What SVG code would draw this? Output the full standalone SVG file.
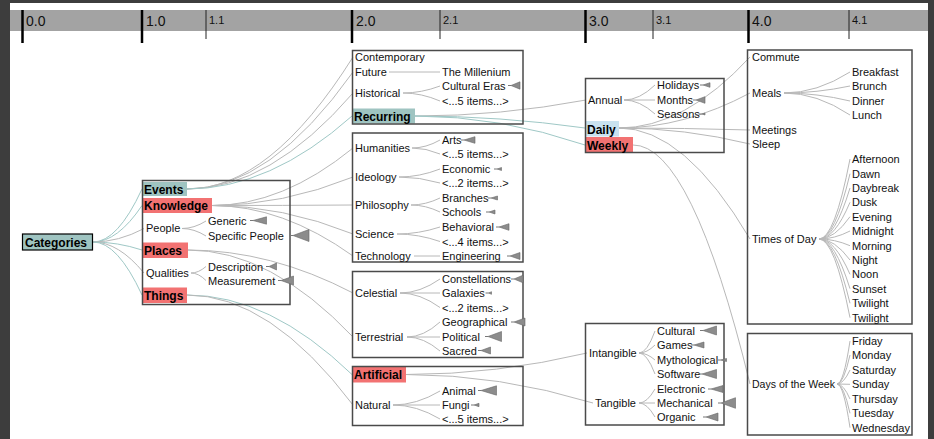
<svg xmlns="http://www.w3.org/2000/svg" width="934" height="439" viewBox="0 0 934 439">
<style>
.box{fill:none;stroke:#4a4a4a;stroke-width:1.5}
.t{font-family:"Liberation Sans",Arial,sans-serif;font-size:11px;fill:#111}
.b{font-family:"Liberation Sans",Arial,sans-serif;font-size:12px;font-weight:bold;fill:#000}
.tk{font-family:"Liberation Sans",Arial,sans-serif;font-size:14px;fill:#111}
.tm{font-family:"Liberation Sans",Arial,sans-serif;font-size:11px;fill:#111}
.teal{fill:#9fc4c1}
.red{fill:#f27272}
.blue{fill:#c9e2ef}
.e{fill:none;stroke:#b8b8b8;stroke-width:1}
.et{fill:none;stroke:#9fc8c6;stroke-width:1}
.tri{fill:#8c8c8c;stroke:#666;stroke-width:0.6}
.lead{stroke:#777;stroke-width:1}
.maj{stroke:#000;stroke-width:2.5}
.min{stroke:#222;stroke-width:1}
</style>
<rect width="934" height="439" fill="#3d3d3d"/>
<rect x="10" y="3" width="918" height="436" fill="#fff"/>
<g id="axis">
<rect x="10" y="10" width="918" height="21" fill="#a3a3a3"/>
<line class="maj" x1="22.5" y1="10" x2="22.5" y2="43"/>
<line class="maj" x1="142" y1="10" x2="142" y2="43"/>
<line class="min" x1="206" y1="10" x2="206" y2="39"/>
<line class="maj" x1="352" y1="10" x2="352" y2="43"/>
<line class="min" x1="440" y1="10" x2="440" y2="39"/>
<line class="maj" x1="585.5" y1="10" x2="585.5" y2="43"/>
<line class="min" x1="653" y1="10" x2="653" y2="39"/>
<line class="maj" x1="748.5" y1="10" x2="748.5" y2="43"/>
<line class="min" x1="849" y1="10" x2="849" y2="39"/>
<text class="tk" x="26" y="26">0.0</text>
<text class="tk" x="146" y="26">1.0</text>
<text class="tm" x="209" y="24">1.1</text>
<text class="tk" x="356" y="26">2.0</text>
<text class="tm" x="443" y="24">2.1</text>
<text class="tk" x="589" y="26">3.0</text>
<text class="tm" x="656" y="24">3.1</text>
<text class="tk" x="752" y="26">4.0</text>
<text class="tm" x="852" y="24">4.1</text>
</g>
<g id="connectors">
<path class="et" d="M93,242 Q117.5,242 142,189"/>
<path class="et" d="M93,242 Q117.5,242 142,205.5"/>
<path class="e" d="M93,242 Q118.5,242 144,228.5"/>
<path class="et" d="M93,242 Q117.5,242 142,250"/>
<path class="e" d="M93,242 Q118.5,242 144,273"/>
<path class="et" d="M93,242 Q117.5,242 142,295"/>
<path class="e" d="M187,189 Q270,189 353,57"/>
<path class="e" d="M187,189 Q270,189 353,72"/>
<path class="e" d="M187,189 Q270,189 353,93"/>
<path class="et" d="M187,189 Q270,189 352,116"/>
<path class="e" d="M212,205.5 Q282.5,205.5 353,148"/>
<path class="e" d="M212,205.5 Q282.5,205.5 353,177"/>
<path class="e" d="M212,205.5 Q282.5,205.5 353,205"/>
<path class="e" d="M212,205.5 Q282.5,205.5 353,234"/>
<path class="e" d="M212,205.5 Q282.5,205.5 353,256"/>
<path class="e" d="M182,228.5 Q194,228.5 206,221"/>
<path class="e" d="M182,228.5 Q194,228.5 206,236"/>
<path class="e" d="M191,273 Q198.5,273 206,266.5"/>
<path class="e" d="M191,273 Q198.5,273 206,280.5"/>
<path class="e" d="M188,250 Q270.5,250 353,293"/>
<path class="e" d="M188,250 Q270.5,250 353,337"/>
<path class="et" d="M187,295 Q269.5,295 352,374.5"/>
<path class="e" d="M187,295 Q270,295 353,405"/>
<path class="e" d="M389,72 L440,72"/>
<path class="e" d="M403,93 Q421.5,93 440,86"/>
<path class="e" d="M403,93 Q421.5,93 440,101"/>
<path class="e" d="M412,148 Q426,148 440,140"/>
<path class="e" d="M412,148 Q426,148 440,154"/>
<path class="e" d="M399,177 Q419.5,177 440,169"/>
<path class="e" d="M399,177 Q419.5,177 440,183"/>
<path class="e" d="M411,205 Q425.5,205 440,198"/>
<path class="e" d="M411,205 Q425.5,205 440,212"/>
<path class="e" d="M397,234 Q418.5,234 440,227"/>
<path class="e" d="M397,234 Q418.5,234 440,241.5"/>
<path class="e" d="M414,256 L440,256"/>
<path class="e" d="M400,293 Q420,293 440,279"/>
<path class="e" d="M400,293 L440,293"/>
<path class="e" d="M400,293 Q420,293 440,307.5"/>
<path class="e" d="M407,337 Q423.5,337 440,322"/>
<path class="e" d="M407,337 L440,337"/>
<path class="e" d="M407,337 Q423.5,337 440,351"/>
<path class="e" d="M393,405 Q416.5,405 440,391"/>
<path class="e" d="M393,405 L440,405"/>
<path class="e" d="M393,405 Q416.5,405 440,419"/>
<path class="e" d="M415,116 Q500.5,116 586,100"/>
<path class="et" d="M415,116 Q500,116 585,128"/>
<path class="et" d="M415,116 Q500,116 585,145"/>
<path class="e" d="M406,374.5 Q496.5,374.5 587,353"/>
<path class="e" d="M406,374.5 Q499.5,374.5 593,403"/>
<path class="e" d="M624,100 Q639.5,100 655,85"/>
<path class="e" d="M624,100 L655,100"/>
<path class="e" d="M624,100 Q639.5,100 655,114"/>
<path class="e" d="M639,353 Q647,353 655,331"/>
<path class="e" d="M639,353 Q647,353 655,345"/>
<path class="e" d="M639,353 Q647,353 655,360"/>
<path class="e" d="M639,353 Q647,353 655,374"/>
<path class="e" d="M639,403 Q647,403 655,389"/>
<path class="e" d="M639,403 L655,403"/>
<path class="e" d="M639,403 Q647,403 655,417"/>
<path class="e" d="M619,128 Q684.5,128 750,57"/>
<path class="e" d="M619,128 Q684.5,128 750,93"/>
<path class="e" d="M619,128 Q684.5,128 750,130"/>
<path class="e" d="M619,128 Q684.5,128 750,144"/>
<path class="e" d="M619,128 Q684.5,128 750,239"/>
<path class="e" d="M633,145 Q691.5,145 750,384"/>
<path class="e" d="M784,93 Q817,93 850,72"/>
<path class="e" d="M784,93 Q817,93 850,86"/>
<path class="e" d="M784,93 Q817,93 850,101"/>
<path class="e" d="M784,93 Q817,93 850,115"/>
<path class="e" d="M819,239 Q834.5,239 850,159"/>
<path class="e" d="M819,239 Q834.5,239 850,173.7"/>
<path class="e" d="M819,239 Q834.5,239 850,188"/>
<path class="e" d="M819,239 Q834.5,239 850,202.3"/>
<path class="e" d="M819,239 Q834.5,239 850,216.7"/>
<path class="e" d="M819,239 Q834.5,239 850,231"/>
<path class="e" d="M819,239 Q834.5,239 850,245.7"/>
<path class="e" d="M819,239 Q834.5,239 850,260"/>
<path class="e" d="M819,239 Q834.5,239 850,274.3"/>
<path class="e" d="M819,239 Q834.5,239 850,288.7"/>
<path class="e" d="M819,239 Q834.5,239 850,303.3"/>
<path class="e" d="M819,239 Q834.5,239 850,317.7"/>
<path class="e" d="M837,384 Q843.5,384 850,341"/>
<path class="e" d="M837,384 Q843.5,384 850,355"/>
<path class="e" d="M837,384 Q843.5,384 850,370"/>
<path class="e" d="M837,384 L850,384.3"/>
<path class="e" d="M837,384 Q843.5,384 850,399"/>
<path class="e" d="M837,384 Q843.5,384 850,413.3"/>
<path class="e" d="M837,384 Q843.5,384 850,427.7"/>
</g>
<g id="node-categories">
<rect x="22.5" y="234" width="70" height="16" class="teal" stroke="#000" stroke-width="1.2"/>
<text class="b" x="25" y="246.5">Categories</text>
</g>
<g id="node-level1">
<rect class="teal" x="143" y="182" width="44" height="14"/>
<rect class="red" x="143" y="198" width="69" height="15"/>
<rect class="red" x="143" y="242.5" width="45" height="15.5"/>
<rect class="red" x="143" y="287.5" width="44" height="15.5"/>
<rect class="box" x="142.5" y="180.5" width="147.5" height="124"/>
<text class="b" x="144" y="194">Events</text>
<text class="b" x="144" y="210">Knowledge</text>
<text class="t" x="146" y="232">People</text>
<text class="t" x="208" y="224.5">Generic</text>
<text class="t" x="208" y="239.5">Specific People</text>
<text class="b" x="144" y="255">Places</text>
<text class="t" x="146" y="277">Qualities</text>
<text class="t" x="208" y="270.5">Description</text>
<text class="t" x="208" y="284.5">Measurement</text>
<text class="b" x="144" y="300">Things</text>
<line class="lead" x1="250" y1="220.5" x2="253" y2="220.5"/><polygon class="tri" points="253,220.5 266.5,216.8 266.5,224.2"/>
<line class="lead" x1="290" y1="235.5" x2="293" y2="235.5"/><polygon class="tri" points="293,235.5 309,229.5 309,241.5"/>
<line class="lead" x1="266" y1="266.5" x2="269" y2="266.5"/><polygon class="tri" points="269,266.5 276.5,263 276.5,270"/>
<line class="lead" x1="278" y1="280.5" x2="281" y2="280.5"/><polygon class="tri" points="281,280.5 293.5,276 293.5,285"/>
</g>
<g id="node-events-children">
<rect class="teal" x="352.5" y="108.5" width="62.5" height="15"/>
<rect class="box" x="352.5" y="50.5" width="170.5" height="73.5"/>
<text class="t" x="355" y="61">Contemporary</text>
<text class="t" x="355" y="76">Future</text>
<text class="t" x="442" y="76">The Millenium</text>
<text class="t" x="355" y="97">Historical</text>
<text class="t" x="442" y="90">Cultural Eras</text>
<text class="t" x="442" y="105">&lt;...5 items...&gt;</text>
<text class="b" x="354" y="121">Recurring</text>
<line class="lead" x1="508" y1="85.5" x2="511" y2="85.5"/><polygon class="tri" points="511,85.5 520,81.8 520,89.2"/>
</g>
<g id="node-knowledge-children">
<rect class="box" x="352.5" y="133" width="170.5" height="129"/>
<text class="t" x="355" y="152">Humanities</text>
<text class="t" x="442" y="144">Arts</text>
<text class="t" x="442" y="158">&lt;...5 items...&gt;</text>
<text class="t" x="355" y="181">Ideology</text>
<text class="t" x="442" y="173">Economic</text>
<text class="t" x="442" y="187">&lt;...2 items...&gt;</text>
<text class="t" x="355" y="209">Philosophy</text>
<text class="t" x="442" y="202">Branches</text>
<text class="t" x="442" y="216">Schools</text>
<text class="t" x="355" y="238">Science</text>
<text class="t" x="442" y="231">Behavioral</text>
<text class="t" x="442" y="245.5">&lt;...4 items...&gt;</text>
<text class="t" x="355" y="260">Technology</text>
<text class="t" x="442" y="260">Engineering</text>
<line class="lead" x1="461" y1="140" x2="464" y2="140"/><polygon class="tri" points="464,140 475,136.7 475,143.3"/>
<line class="lead" x1="494" y1="169" x2="497" y2="169"/><polygon class="tri" points="497,169 501.5,167.5 501.5,170.5"/>
<line class="lead" x1="488" y1="198" x2="491" y2="198"/><polygon class="tri" points="491,198 497.5,196 497.5,200"/>
<line class="lead" x1="486" y1="212" x2="489" y2="212"/><polygon class="tri" points="489,212 495,210 495,214"/>
<line class="lead" x1="496" y1="227" x2="499" y2="227"/><polygon class="tri" points="499,227 509,223.7 509,230.3"/>
<line class="lead" x1="507" y1="256" x2="510" y2="256"/><polygon class="tri" points="510,256 520,252.5 520,259.5"/>
</g>
<g id="node-places-children">
<rect class="box" x="352.5" y="271.5" width="170.5" height="86"/>
<text class="t" x="355" y="297">Celestial</text>
<text class="t" x="442" y="283">Constellations</text>
<text class="t" x="442" y="297">Galaxies</text>
<text class="t" x="442" y="311.5">&lt;...2 items...&gt;</text>
<text class="t" x="355" y="341">Terrestrial</text>
<text class="t" x="442" y="326">Geographical</text>
<text class="t" x="442" y="341">Political</text>
<text class="t" x="442" y="355">Sacred</text>
<line class="lead" x1="511" y1="279" x2="514" y2="279"/><polygon class="tri" points="514,279 523,275.2 523,282.8"/>
<line class="lead" x1="485.5" y1="293" x2="488.5" y2="293"/><polygon class="tri" points="488.5,293 491.5,291.7 491.5,294.3"/>
<line class="lead" x1="511" y1="322" x2="514" y2="322"/><polygon class="tri" points="514,322 525,318 525,326"/>
<line class="lead" x1="485" y1="336.5" x2="488" y2="336.5"/><polygon class="tri" points="488,336.5 501.5,331.5 501.5,341.5"/>
<line class="lead" x1="478" y1="350.5" x2="481" y2="350.5"/><polygon class="tri" points="481,350.5 490.5,347 490.5,354"/>
</g>
<g id="node-things-children">
<rect class="red" x="352.5" y="367" width="53.5" height="15.5"/>
<rect class="box" x="352.5" y="366.5" width="170.5" height="59"/>
<text class="b" x="354" y="379">Artificial</text>
<text class="t" x="355" y="409">Natural</text>
<text class="t" x="442" y="395">Animal</text>
<text class="t" x="442" y="409">Fungi</text>
<text class="t" x="442" y="423">&lt;...5 items...&gt;</text>
<line class="lead" x1="478" y1="390.5" x2="481" y2="390.5"/><polygon class="tri" points="481,390.5 496.5,385.8 496.5,395.2"/>
<line class="lead" x1="471" y1="405" x2="474" y2="405"/><polygon class="tri" points="474,405 479,403.3 479,406.7"/>
</g>
<g id="node-recurring-children">
<rect class="blue" x="585.5" y="121" width="33.5" height="15.5"/>
<rect class="red" x="585.5" y="137" width="47.5" height="15"/>
<rect class="box" x="585.5" y="78.5" width="138.5" height="74"/>
<text class="t" x="588" y="104">Annual</text>
<text class="t" x="657" y="89">Holidays</text>
<text class="t" x="657" y="104">Months</text>
<text class="t" x="657" y="118">Seasons</text>
<text class="b" x="587" y="134">Daily</text>
<text class="b" x="587" y="149.5">Weekly</text>
<line class="lead" x1="700" y1="85" x2="703" y2="85"/><polygon class="tri" points="703,85 710,82.7 710,87.3"/>
<line class="lead" x1="693" y1="100" x2="696" y2="100"/><polygon class="tri" points="696,100 705,96.7 705,103.3"/>
<line class="lead" x1="699" y1="114" x2="702" y2="114"/><polygon class="tri" points="702,114 705,113 705,115"/>
</g>
<g id="node-artificial-children">
<rect class="box" x="585.5" y="323.5" width="138.5" height="101.5"/>
<text class="t" x="589" y="357">Intangible</text>
<text class="t" x="657" y="335">Cultural</text>
<text class="t" x="657" y="349">Games</text>
<text class="t" x="657" y="364">Mythological</text>
<text class="t" x="657" y="378">Software</text>
<text class="t" x="595" y="407">Tangible</text>
<text class="t" x="657" y="393">Electronic</text>
<text class="t" x="657" y="407">Mechanical</text>
<text class="t" x="657" y="421">Organic</text>
<line class="lead" x1="700" y1="330.5" x2="703" y2="330.5"/><polygon class="tri" points="703,330.5 716.5,326 716.5,335"/>
<line class="lead" x1="691" y1="345" x2="694" y2="345"/><polygon class="tri" points="694,345 704,342 704,348"/>
<line class="lead" x1="717.5" y1="360" x2="720.5" y2="360"/><polygon class="tri" points="720.5,360 726.5,358.5 726.5,361.5"/>
<line class="lead" x1="699" y1="374" x2="702" y2="374"/><polygon class="tri" points="702,374 716.5,369.5 716.5,378.5"/>
<line class="lead" x1="708" y1="389" x2="711" y2="389"/><polygon class="tri" points="711,389 723,385.5 723,392.5"/>
<line class="lead" x1="718" y1="403" x2="721" y2="403"/><polygon class="tri" points="721,403 735.5,397.7 735.5,408.3"/>
<line class="lead" x1="703" y1="417" x2="706" y2="417"/><polygon class="tri" points="706,417 718,413 718,421"/>
</g>
<g id="node-daily-children">
<rect class="box" x="747.5" y="50" width="164.5" height="274"/>
<text class="t" x="752" y="61">Commute</text>
<text class="t" x="752" y="97">Meals</text>
<text class="t" x="852" y="76">Breakfast</text>
<text class="t" x="852" y="90">Brunch</text>
<text class="t" x="852" y="105">Dinner</text>
<text class="t" x="852" y="119">Lunch</text>
<text class="t" x="752" y="134">Meetings</text>
<text class="t" x="752" y="148">Sleep</text>
<text class="t" x="752" y="243">Times of Day</text>
<text class="t" x="852" y="163">Afternoon</text>
<text class="t" x="852" y="177.7">Dawn</text>
<text class="t" x="852" y="192">Daybreak</text>
<text class="t" x="852" y="206.3">Dusk</text>
<text class="t" x="852" y="220.7">Evening</text>
<text class="t" x="852" y="235">Midnight</text>
<text class="t" x="852" y="249.7">Morning</text>
<text class="t" x="852" y="264">Night</text>
<text class="t" x="852" y="278.3">Noon</text>
<text class="t" x="852" y="292.7">Sunset</text>
<text class="t" x="852" y="307.3">Twilight</text>
<text class="t" x="852" y="321.7">Twilight</text>
</g>
<g id="node-weekly-children">
<rect class="box" x="747.5" y="333.5" width="164.5" height="101.5"/>
<text class="t" x="752" y="388" textLength="83" lengthAdjust="spacingAndGlyphs">Days of the Week</text>
<text class="t" x="852" y="344.7">Friday</text>
<text class="t" x="852" y="359">Monday</text>
<text class="t" x="852" y="374">Saturday</text>
<text class="t" x="852" y="388.3">Sunday</text>
<text class="t" x="852" y="403">Thursday</text>
<text class="t" x="852" y="417.3">Tuesday</text>
<text class="t" x="852" y="431.7">Wednesday</text>
</g>
</svg>
